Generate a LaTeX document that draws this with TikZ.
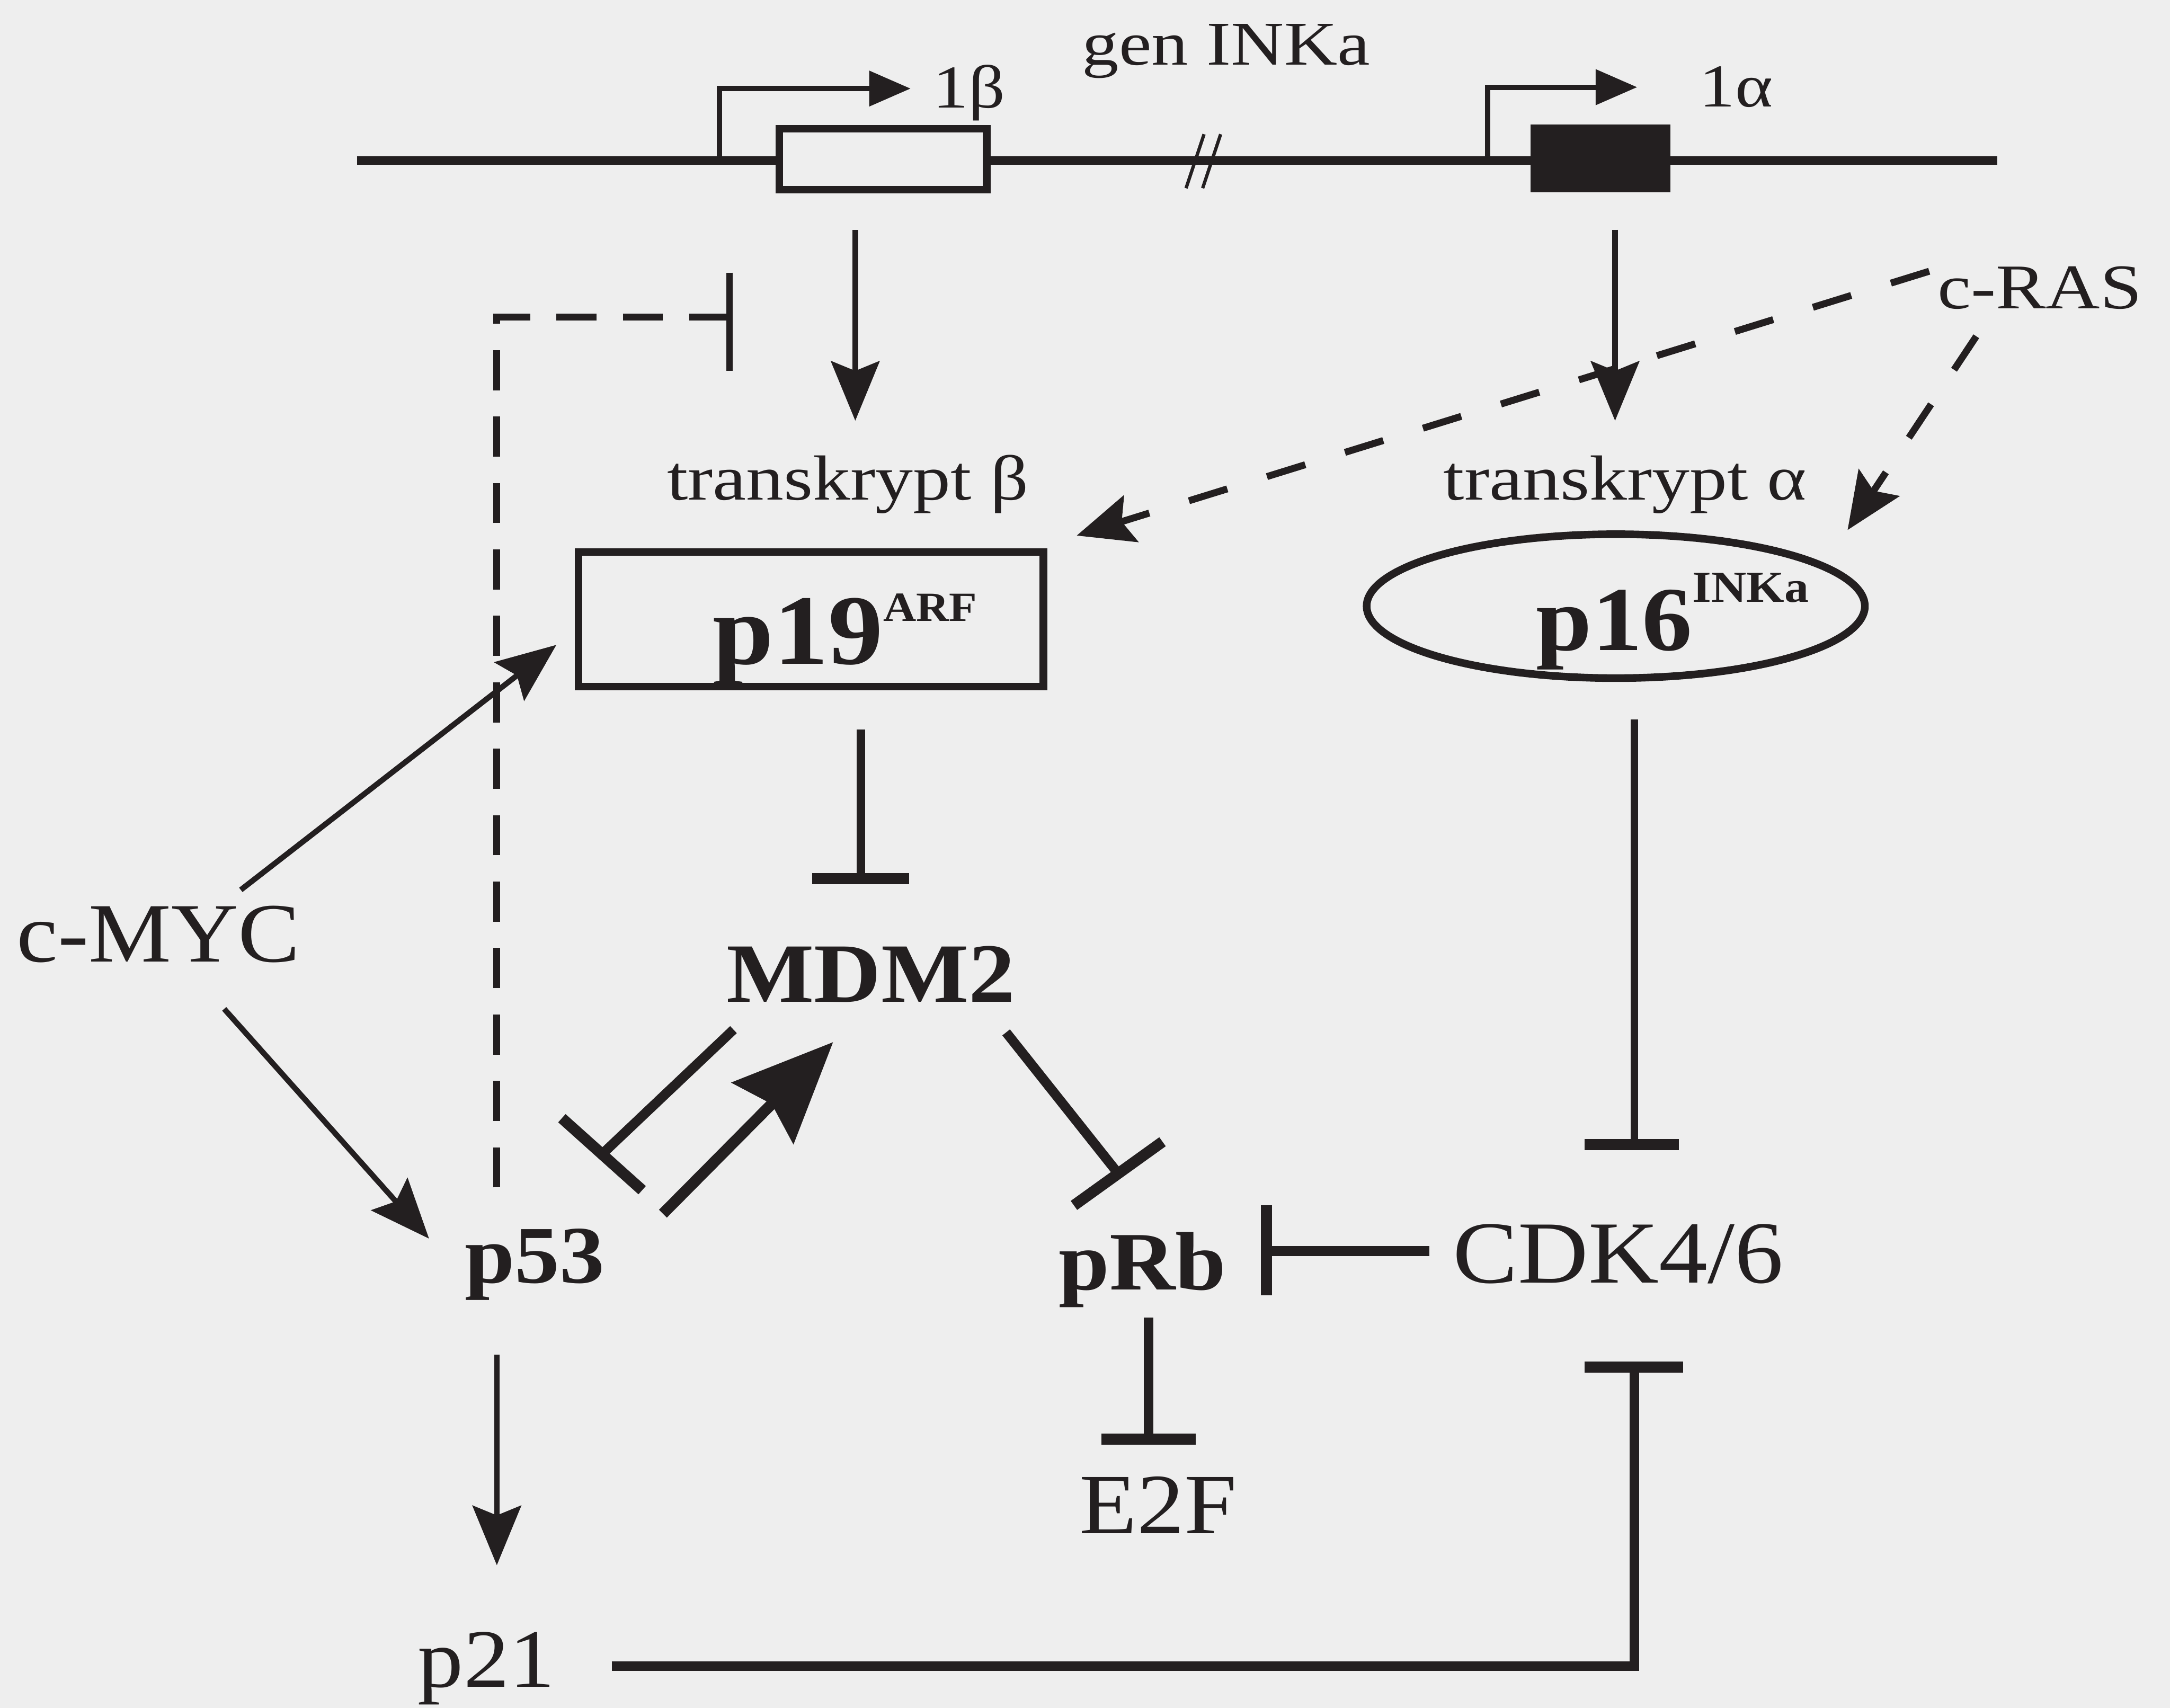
\documentclass[tikz,border=0pt]{standalone}
\usepackage{fontspec}
\setmainfont{Liberation Serif}
\newfontfamily\tnr{Liberation Serif}[FakeStretch=1.1]
\newfontfamily\pal{Liberation Serif}[FakeStretch=1.18]
\usetikzlibrary{arrows.meta,shapes.geometric}
\definecolor{paper}{RGB}{238,238,238}
\definecolor{ink}{RGB}{35,31,32}
\newcommand{\fs}[1]{\fontsize{#1}{#1}\selectfont}
\begin{document}
\begin{tikzpicture}[x=1pt,y=-1pt,
  lbl/.style={anchor=base west, inner sep=0pt, outer sep=0pt, text=ink},
  thinln/.style={draw=ink, line width=4pt},
  act/.style={thinln, -{Stealth[length=43pt,width=35pt,inset=7pt]}},
  dsh/.style={draw=ink, line width=5pt, dash pattern=on 29pt off 30pt},
  inh/.style={draw=ink, line width=7pt},
  tbar/.style={draw=ink, line width=8pt},
  prom/.style={draw=ink, line width=3.8pt, -{Triangle[length=30pt,width=25pt]}},
]
\fill[paper] (0,0) rectangle (1568,1234);
\useasboundingbox (0,0) rectangle (1568,1234);

% gene line
\coordinate (gl) at (258,116);
\coordinate (gr) at (1443,116);
\draw[ink, line width=6pt] (gl) -- (gr);
\node[draw=ink, line width=5.5pt, fill=paper, minimum width=150pt, minimum height=44pt, inner sep=0pt] (exb) at (638,115) {};
\node[fill=ink, draw=none, minimum width=101pt, minimum height=49pt, inner sep=0pt] (exa) at (1156.5,114.5) {};
% break mark
\coordinate (k1a) at (870,97); \coordinate (k1b) at (857,136);
\coordinate (k2a) at (882,97); \coordinate (k2b) at (869,136);
\draw[ink, line width=2.4pt] (k1a) -- (k1b) (k2a) -- (k2b);
% promoters
\coordinate (pb0) at (520,116); \coordinate (pb1) at (520,64); \coordinate (pb2) at (658,64);
\draw[prom] (pb0) -- (pb1) -- (pb2);
\coordinate (pa0) at (1075,116); \coordinate (pa1) at (1075,63); \coordinate (pa2) at (1183,63);
\draw[prom] (pa0) -- (pa1) -- (pa2);

% labels
\node[lbl, font=\pal\fs{45}] (gen) at (782,47) {gen INKa};
\node[lbl, font=\pal\fs{44}] (e1b) at (674,78) {1β};
\node[lbl, font=\pal\fs{44}] (e1a) at (1228,77) {1α};
\node[lbl, font=\pal\fs{46}] (ras) at (1400,223) {c-RAS};
\node[lbl, font=\pal\fs{46}] (trb) at (482,361) {transkrypt β};
\node[lbl, font=\pal\fs{46}] (tra) at (1043,361) {transkrypt α};

% p19 box and p16 ellipse
\node[draw=ink, line width=5.5pt, minimum width=336pt, minimum height=97pt, inner sep=0pt] (p19box) at (586,447.5) {};
\node[ellipse, draw=ink, line width=5.5pt, minimum width=360pt, minimum height=104pt, inner sep=0pt] (p16ell) at (1167.5,438) {};
\node[lbl, font=\tnr\bfseries\fs{72}] (p19) at (515,480) {p19\raisebox{31pt}{\fs{30}ARF}};
\node[lbl, font=\tnr\bfseries\fs{66}] (p16) at (1110,470) {p16\raisebox{35pt}{\fs{32}INKa}};

\node[lbl, font=\tnr\fs{61}] (myc) at (12,695) {c-MYC};
\node[lbl, font=\tnr\bfseries\fs{61}] (mdm) at (525,724) {MDM2};
\node[lbl, font=\tnr\bfseries\fs{59}] (p53) at (336,927) {p53};
\node[lbl, font=\tnr\bfseries\fs{60}] (prb) at (765,932) {pRb};
\node[lbl, font=\tnr\fs{64}] (cdk) at (1050,927) {CDK4/6};
\node[lbl, font=\tnr\fs{62}] (e2f) at (780,1108) {E2F};
\node[lbl, font=\tnr\fs{60}] (p21) at (302,1219) {p21};

% transcription arrows
\coordinate (tb0) at (618,166); \coordinate (tb1) at (618,304);
\draw[act] (tb0) -- (tb1);
\coordinate (ta0) at (1167,166); \coordinate (ta1) at (1167,304);
\draw[act] (ta0) -- (ta1);

% c-RAS dashed arrows
\coordinate (r0) at (1394,196); \coordinate (r1) at (778,387);
\draw[dsh, -{Stealth[length=41pt,width=35pt,inset=7pt]}] (r0) -- (r1);
\coordinate (s0) at (1428,243); \coordinate (s1) at (1335,383);
\draw[dsh, -{Stealth[length=41pt,width=35pt,inset=7pt]}] (s0) -- (s1);

% p53 dashed inhibition of transcript beta
\coordinate (d0) at (359,858); \coordinate (d1) at (359,229); \coordinate (d2) at (527,229);
\draw[dsh, dash pattern=on 29pt off 19pt] (d0) -- (d1) -- (d2);
\coordinate (db0) at (527,197); \coordinate (db1) at (527,268);
\draw[ink, line width=4.5pt] (db0) -- (db1);

% c-MYC arrows
\coordinate (m0) at (174,643); \coordinate (m1) at (402,466);
\draw[act] (m0) -- (m1);
\coordinate (m2) at (162,729); \coordinate (m3) at (310,895);
\draw[act] (m2) -- (m3);

% p53 -> p21
\coordinate (q0) at (359,979); \coordinate (q1) at (359,1131);
\draw[act] (q0) -- (q1);

% p19 -| MDM2
\coordinate (a0) at (622,527); \coordinate (a1) at (622,635);
\draw[ink, line width=6pt] (a0) -- (a1);
\coordinate (a2) at (587,635); \coordinate (a3) at (657,635);
\draw[tbar] (a2) -- (a3);

% MDM2 -| p53
\coordinate (b0) at (530,744); \coordinate (b1) at (435,834);
\draw[inh] (b0) -- (b1);
\coordinate (b2) at (406,808); \coordinate (b3) at (464,860);
\draw[tbar] (b2) -- (b3);

% p53 -> MDM2 (strong)
\coordinate (c0) at (479,877); \coordinate (c1) at (602,753);
\draw[draw=ink, line width=8pt, -{Stealth[length=72pt,width=62pt,inset=9pt]}] (c0) -- (c1);

% MDM2 -| pRb
\coordinate (e0) at (727,746); \coordinate (e1) at (808,848);
\draw[inh] (e0) -- (e1);
\coordinate (e2) at (776,871); \coordinate (e3) at (840,825);
\draw[tbar] (e2) -- (e3);

% CDK4/6 -| pRb
\coordinate (f0) at (1033,904); \coordinate (f1) at (915,904);
\draw[inh] (f0) -- (f1);
\coordinate (f2) at (915,871); \coordinate (f3) at (915,936);
\draw[tbar] (f2) -- (f3);

% pRb -| E2F
\coordinate (g0) at (830,952); \coordinate (g1) at (830,1040);
\draw[inh] (g0) -- (g1);
\coordinate (g2) at (796,1040); \coordinate (g3) at (864,1040);
\draw[tbar] (g2) -- (g3);

% p16 -| CDK4/6
\coordinate (h0) at (1181,520); \coordinate (h1) at (1181,827);
\draw[ink, line width=5.5pt] (h0) -- (h1);
\coordinate (h2) at (1145,827); \coordinate (h3) at (1213,827);
\draw[tbar] (h2) -- (h3);

% p21 -| CDK4/6
\coordinate (i0) at (442,1204); \coordinate (i1) at (1181,1204); \coordinate (i2) at (1181,988);
\draw[inh, miter limit=10] (i0) -- (i1) -- (i2);
\coordinate (i3) at (1145,988); \coordinate (i4) at (1216,988);
\draw[tbar] (i3) -- (i4);
\end{tikzpicture}
\end{document}
